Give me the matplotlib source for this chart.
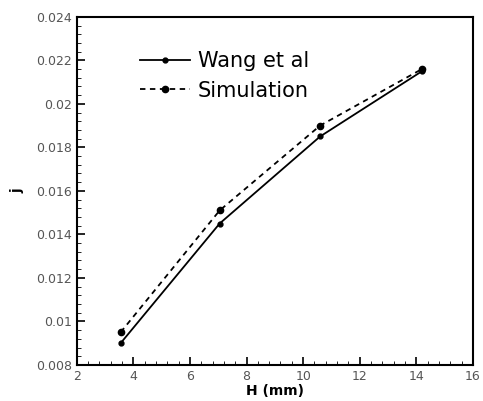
import matplotlib
matplotlib.use("Agg")
import matplotlib.pyplot as plt
from matplotlib.ticker import MultipleLocator

H = [3.55, 7.05, 10.6, 14.2]
wang = [0.0090, 0.0145, 0.0185, 0.0215]
sim = [0.0095, 0.0151, 0.0190, 0.0216]
xticks = [2, 4, 6, 8, 10, 12, 14, 16]
yticks = [0.008, 0.01, 0.012, 0.014, 0.016, 0.018, 0.02, 0.022, 0.024]
ylabels = ["0.008", "0.01", "0.012", "0.014", "0.016", "0.018", "0.02", "0.022", "0.024"]

fig = plt.figure(figsize=(4.83, 4.01), dpi=100)
ax = fig.add_axes([0.159, 0.090, 0.820, 0.868])
ax.plot(H, wang, '-', color='black', lw=1.3, marker='o', ms=3.5, label='Wang et al')
ax.plot(H, sim, '--', color='black', lw=1.3, marker='o', ms=4.5, dashes=(3, 2.5), label='Simulation')
ax.set_xlim(2, 16)
ax.set_ylim(0.008, 0.024)
ax.set_xticks(xticks)
ax.set_xticklabels([str(t) for t in xticks])
ax.set_yticks(yticks)
ax.set_yticklabels(ylabels)
ax.xaxis.set_minor_locator(MultipleLocator(0.4))
ax.yaxis.set_minor_locator(MultipleLocator(0.0004))
ax.tick_params(which='major', direction='in', length=6, width=1.2, labelsize=9, labelcolor='#555555', top=False, right=False)
ax.tick_params(which='minor', direction='in', length=3, width=0.6, top=False, right=False)
for s in ax.spines.values():
    s.set_linewidth(1.5)
ax.set_xlabel('H (mm)', fontweight='bold', fontsize=10, labelpad=1)
ax.set_ylabel('j', fontweight='bold', fontsize=10, rotation=90, labelpad=8)
ax.legend(loc='upper left', bbox_to_anchor=(0.113, 0.955), frameon=False, fontsize=15,
          handlelength=2.4, labelspacing=0.45, handletextpad=0.35)
fig.savefig('out.png', dpi=100)
